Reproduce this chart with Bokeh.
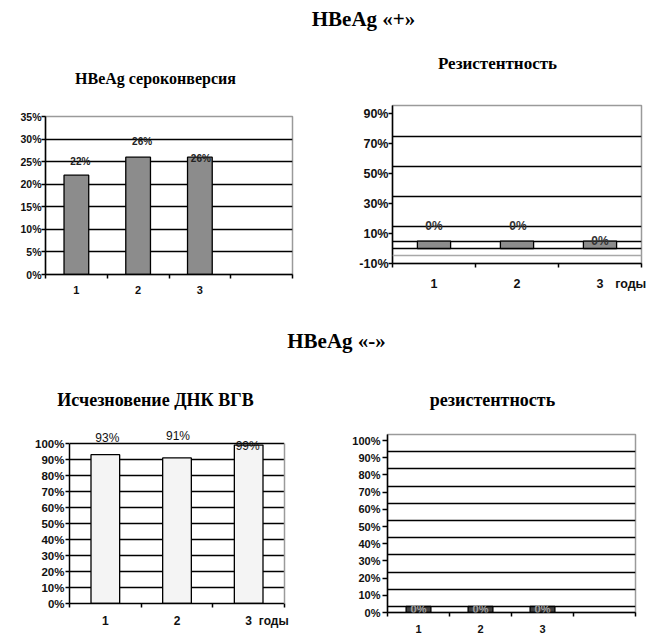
from bokeh.plotting import figure
from bokeh.models import (ColumnDataSource, FixedTicker, Range1d, LabelSet, LinearAxis,
                          Span, PrintfTickFormatter)
from bokeh.layouts import column, row
from bokeh.embed import file_html
from bokeh.resources import INLINE
from bokeh.core.properties import value

# ---------------- data ----------------
years = ["1", "2", "3"]
seroconv_pos = [22, 26, 26]          # HBeAg сероконверсия, %
resist_pos = [0, 0, 0]               # Резистентность (HBeAg+), %  (labels)
resist_pos_drawn = [5, 5, 5]         # bar height as drawn in the picture
dna_loss_neg = [93, 91, 99]          # Исчезновение ДНК ВГВ, %
resist_neg = [0, 0, 0]               # резистентность (HBeAg-), %  (labels)
resist_neg_drawn = [3.5, 3.5, 3.5]   # bar height as drawn in the picture

ticks_p1 = [0, 5, 10, 15, 20, 25, 30, 35]
ticks_p2 = [-10, 10, 30, 50, 70, 90]
ticks_p3 = [0, 10, 20, 30, 40, 50, 60, 70, 80, 90, 100]
ticks_p4 = [0, 10, 20, 30, 40, 50, 60, 70, 80, 90, 100]
years_unit = "годы"

SANS = "Liberation Sans"
SERIF = "Liberation Serif"
GREY = "#9a9a9a"


def panel(width, height, borders, n_slots, view, axis_span, yticks, gridticks,
          heights, texts, dx, dy, fill, ytick_size, xtick_size, lab_size, lab_style,
          lab_color, ystandoff, xstandoff, ytick_out, unit_at=None):
    left, right, top, bottom = borders
    p = figure(width=width, height=height, output_backend="svg", toolbar_location=None,
               x_range=Range1d(0.5, n_slots + 0.5), y_range=Range1d(*view),
               min_border_left=left, min_border_right=right,
               min_border_top=top, min_border_bottom=bottom, frame_align=False)
    p.background_fill_color = "white"
    p.border_fill_color = "white"
    p.xgrid.visible = False
    p.ygrid.ticker = FixedTicker(ticks=gridticks)
    p.ygrid.grid_line_color = "black"
    p.ygrid.grid_line_width = 1.5

    y0, y1 = axis_span
    full = (y0, y1) == tuple(view)
    if full:
        p.outline_line_color = GREY
        p.outline_line_width = 1.5
    else:
        p.outline_line_color = None

    xs = list(range(1, len(years) + 1))
    ticks = list(xs)
    overrides = {x: y for x, y in zip(xs, years)}
    if unit_at is not None:
        ticks.append(unit_at)
        overrides[unit_at] = years_unit

    # x axis: category labels at centres, tick marks at slot boundaries
    xa = p.xaxis[0]
    xa.ticker = FixedTicker(ticks=ticks, minor_ticks=[i + 0.5 for i in range(n_slots + 1)])
    xa.major_label_overrides = overrides
    xa.major_tick_line_color = None
    xa.major_tick_out = 0
    xa.major_tick_in = 0
    xa.minor_tick_line_color = "black"
    xa.minor_tick_line_width = 1.5
    xa.minor_tick_out = 4
    xa.minor_tick_in = 0
    xa.axis_line_color = "black"
    xa.axis_line_width = 1.5
    xa.major_label_text_font = SANS
    xa.major_label_text_font_style = "bold"
    xa.major_label_text_font_size = f"{xtick_size}px"
    xa.major_label_text_color = "#111111"
    xa.major_label_standoff = xstandoff

    ya = p.yaxis[0]
    ya.bounds = (y0, y1)
    ya.ticker = FixedTicker(ticks=yticks)
    ya.formatter = PrintfTickFormatter(format="%d%%")
    ya.major_tick_out = ytick_out
    ya.major_tick_in = 0
    ya.major_tick_line_color = "black"
    ya.major_tick_line_width = 1.5
    ya.minor_tick_line_color = None
    ya.axis_line_color = "black"
    ya.axis_line_width = 1.5
    ya.major_label_text_font = SANS
    ya.major_label_text_font_style = "bold"
    ya.major_label_text_font_size = f"{ytick_size}px"
    ya.major_label_text_color = "#111111"
    ya.major_label_standoff = ystandoff

    if not full:
        # grey right border of the plot area, only as high as the axis
        rax = LinearAxis(bounds=(y0, y1), axis_line_color=GREY, axis_line_width=1.5,
                         major_tick_line_color=None, minor_tick_line_color=None,
                         major_tick_out=0, major_tick_in=0, minor_tick_out=0,
                         major_label_text_font_size="0px", major_label_standoff=0,
                         ticker=FixedTicker(ticks=[]))
        p.add_layout(rax, "right")

    src = ColumnDataSource(dict(x=xs, top=heights, label=texts, dx=dx, dy=dy))
    p.vbar(x="x", top="top", bottom=0, width=0.4, source=src,
           fill_color=fill, line_color="black", line_width=1.3)
    p.add_layout(LabelSet(x="x", y="top", text="label", x_offset="dx", y_offset="dy",
                          source=src, text_align="center", text_baseline="middle",
                          text_font=value(SANS), text_font_style=lab_style,
                          text_font_size=f"{lab_size}px", text_color=lab_color))
    return p


def header(height, items):
    h = figure(width=653, height=height, output_backend="svg", toolbar_location=None,
               x_range=Range1d(0, 653), y_range=Range1d(height, 0),
               x_axis_type=None, y_axis_type=None, min_border=0, frame_align=False)
    h.outline_line_color = None
    h.grid.visible = False
    for (x, y, txt, size) in items:
        h.text(x=[x], y=[y], text=[txt], text_align="center", text_baseline="middle",
               text_font=value(SERIF), text_font_style="bold",
               text_font_size=f"{size}px", text_color="black")
    return h


h1 = header(100, [(363, 18, "HBeAg «+»", 21),
                  (155, 78, "HBeAg сероконверсия", 16),
                  (497, 63, "Резистентность", 17)])

# row 1 (page y 100..300)
p1 = panel(330, 200, (45, 38, 16, 26), 4, (0, 35), (0, 35), ticks_p1,
           [5, 10, 15, 20, 25, 30],
           seroconv_pos, [f"{v}%" for v in seroconv_pos], [4, 4, 1], [14, 16, -1],
           "#8c8c8c", 10.5, 11, 10, "bold", "#222222", 0, 7, 4)

p2 = panel(323, 200, (62, 12, 5, 37), 3, (-10, 95.5), (-10, 95.5), ticks_p2,
           [0, 5, 15, 35, 55, 75],
           resist_pos_drawn, [f"{v}%" for v in resist_pos], [0, 1, 0], [15, 15, 0],
           "#8c8c8c", 12.5, 12.5, 12, "bold", "#333333", 0, 9, 4, unit_at=3.37)
p2.add_layout(Span(location=-4.7, dimension="width", line_color="#a8a8a8", line_width=1.5))

h2 = header(120, [(336, 40, "HBeAg «-»", 21),
                  (155, 99, "Исчезновение ДНК ВГВ", 18),
                  (492, 99, "резистентность", 18)])

# row 2 (page y 420..635)
p3 = panel(330, 215, (69, 46, 7, 32), 3, (0, 110), (0, 100), ticks_p3,
           [10, 20, 30, 40, 50, 60, 70, 80, 90, 100],
           dna_loss_neg, [f"{v}%" for v in dna_loss_neg], [2, 1, -1], [17, 22, -1],
           "#f4f4f4", 11.5, 12, 12, "normal", "#111111", 1, 6, 4, unit_at=3.35)

p4 = panel(323, 215, (57, 18, 14, 22), 4, (0, 103.5), (0, 103.5), ticks_p4,
           [3.5 + 10 * k for k in range(10)],
           resist_neg_drawn, [f"{v}%" for v in resist_neg], [0, 0, 0], [-3, -3, -3],
           "#404040", 11, 11, 11, "bold", "#a0a0a0", 2, 8, 5)

layout = column(h1, row(p1, p2), h2, row(p3, p4))
open("out.html", "w").write(file_html(layout, INLINE))
